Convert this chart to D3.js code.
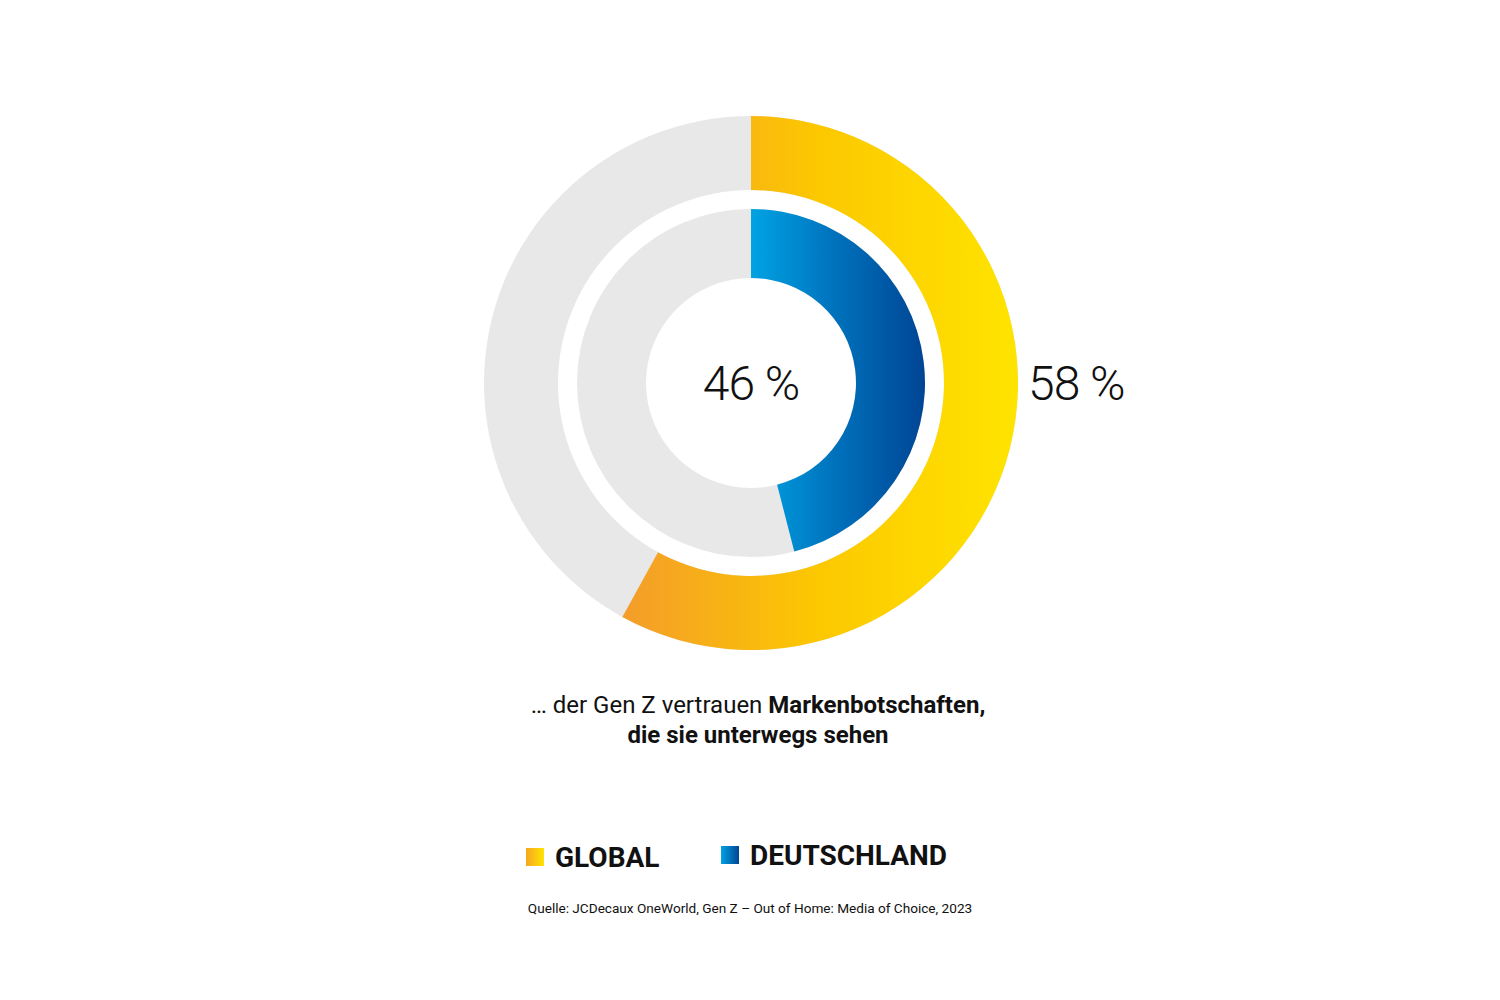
<!DOCTYPE html>
<html><head><meta charset="utf-8">
<script src="https://cdn.jsdelivr.net/npm/d3@7"></script>
<style>body{margin:0;background:#fff}</style>
</head><body>
<svg id="chart" width="1500" height="1000"></svg>
<script>
const series = ['GLOBAL', 'DEUTSCHLAND'];
const values = [58, 46];
const labels = ['58 %', '46 %'];

const svg = d3.select('#chart');
const cx = 751, cy = 383;
const defs = svg.append('defs');

// horizontal gradients across each ring (local coords, centre = 0)
const grads = [
  { id: 'gGlobal', stops: ['#f39c2b', '#fcc800', '#ffe400'], x1: -131, x2: 267 },
  { id: 'gDe', stops: ['#00a3e3', '#0070bb', '#004594'], x1: 0, x2: 174 }
];
grads.forEach(g => {
  const lg = defs.append('linearGradient').attr('id', g.id)
    .attr('gradientUnits', 'userSpaceOnUse')
    .attr('x1', g.x1).attr('x2', g.x2).attr('y1', 0).attr('y2', 0);
  g.stops.forEach((c, i) => lg.append('stop').attr('offset', i / (g.stops.length - 1)).attr('stop-color', c));
});

const rings = [
  { inner: 193, outer: 267, fill: 'url(#gGlobal)' },
  { inner: 105, outer: 174, fill: 'url(#gDe)' }
];
const angle = d3.scaleLinear().domain([0, 100]).range([0, 2 * Math.PI]);
const g = svg.append('g').attr('transform', `translate(${cx},${cy})`);

rings.forEach((r, i) => {
  const arc = d3.arc().innerRadius(r.inner).outerRadius(r.outer);
  g.append('path').attr('d', arc({ startAngle: 0, endAngle: 2 * Math.PI })).attr('fill', '#e8e8e8');
  g.append('path').attr('d', arc({ startAngle: 0, endAngle: angle(values[i]) })).attr('fill', r.fill);
});

const font = 'Roboto, "Noto Sans", sans-serif';
svg.append('text').attr('x', 1028).attr('y', 400).attr('font-family', font)
  .attr('font-weight', 300).attr('font-size', 48).attr('letter-spacing', -1).attr('fill', '#111').text(labels[0]);
svg.append('text').attr('x', cx).attr('y', 400).attr('text-anchor', 'middle').attr('font-family', font)
  .attr('font-weight', 300).attr('font-size', 48).attr('letter-spacing', -1).attr('fill', '#111').text(labels[1]);

const cap = svg.append('text').attr('x', 758).attr('y', 713).attr('text-anchor', 'middle')
  .attr('font-family', font).attr('font-size', 24).attr('fill', '#111');
cap.append('tspan').text('… der Gen Z vertrauen ');
cap.append('tspan').attr('font-weight', 700).text('Markenbotschaften,');
svg.append('text').attr('x', 758).attr('y', 743).attr('text-anchor', 'middle')
  .attr('font-family', font).attr('font-size', 24).attr('font-weight', 700).attr('fill', '#111')
  .text('die sie unterwegs sehen');

const legendX = [526, 721];
const lgGrad = [['#f5a623', '#ffe400'], ['#00a3e3', '#004594']];
series.forEach((s, i) => {
  const lg = defs.append('linearGradient').attr('id', 'lg' + i);
  lg.append('stop').attr('offset', 0).attr('stop-color', lgGrad[i][0]);
  lg.append('stop').attr('offset', 1).attr('stop-color', lgGrad[i][1]);
  svg.append('rect').attr('x', legendX[i]).attr('y', 848 - (i ? 2 : 0)).attr('width', 18).attr('height', 18)
    .attr('fill', `url(#lg${i})`);
  svg.append('text').attr('x', legendX[i] + 29).attr('y', 867 - (i ? 2 : 0)).attr('font-family', font)
    .attr('font-weight', 700).attr('font-size', 28).attr('fill', '#111').text(s);
});

svg.append('text').attr('x', 750).attr('y', 913).attr('text-anchor', 'middle')
  .attr('font-family', font).attr('font-size', 13.6).attr('fill', '#111')
  .text('Quelle: JCDecaux OneWorld, Gen Z – Out of Home: Media of Choice, 2023');
</script>
</body></html>
